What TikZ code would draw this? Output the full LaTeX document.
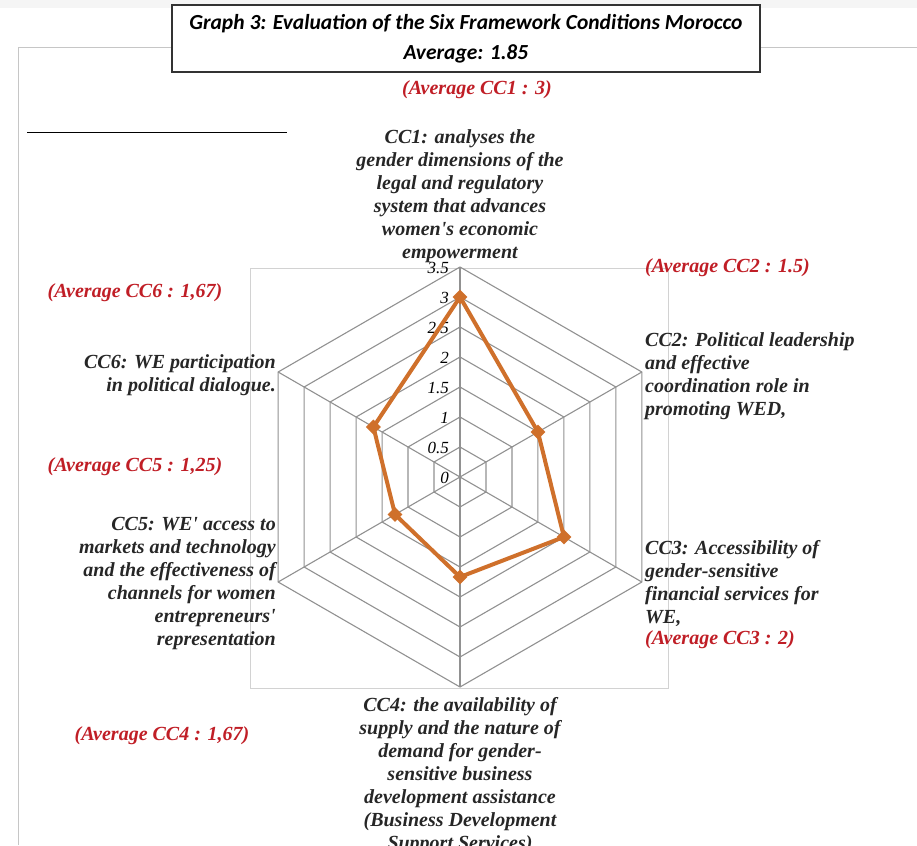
\documentclass[tikz,border=0pt]{standalone}
\usepackage{fontspec}
\setmainfont{Liberation Serif}
\newfontfamily\labfont{Liberation Serif Bold Italic}
\newfontfamily\tickfont{Liberation Serif Italic}
\newfontfamily\titlefont{Carlito Bold Italic}
\usetikzlibrary{shapes.geometric}
\definecolor{sorange}{RGB}{207,112,43}
\definecolor{sred}{RGB}{192,30,38}
\definecolor{gridc}{RGB}{145,145,145}
\begin{document}
\begin{tikzpicture}[x=1pt,y=-1pt,
  lab/.style={font=\labfont\fontsize{20}{23}\selectfont, inner sep=0pt, text=black!85},
  avg/.style={font=\labfont\fontsize{20}{22}\selectfont, text=sred, inner sep=0pt},
  tick/.style={font=\tickfont\fontsize{17}{18}\selectfont, inner sep=0pt, anchor=east, text=black},
  mk/.style={diamond, fill=sorange, minimum size=15pt, inner sep=0pt},
  gridline/.style={draw=gridc, line width=1.1pt}]
\useasboundingbox (0,0) rectangle (917,845);
\fill[gray!8] (0,0) rectangle (917,8);
% outer frame
\coordinate (fa) at (18,845);
\coordinate (fb) at (18,48);
\coordinate (fc) at (172,48);
\coordinate (fd) at (760,48);
\coordinate (fe) at (917,48);
\draw[gray!45, line width=1pt] (fa) -- (fb) -- (fc);
\draw[gray!45, line width=1pt] (fd) -- (fe);
% title
\node[draw=black!80, line width=1.2pt, fill=white, minimum width=588pt, minimum height=67pt,
  align=center, font=\titlefont\fontsize{21.5}{30}\selectfont, inner sep=0pt]
  (title) at (466,38.5) {Graph 3: Evaluation of the Six Framework Conditions Morocco\\Average: 1.85};
% short line
\coordinate (sl1) at (27,132);
\coordinate (sl2) at (287,132);
\draw[black, line width=0.9pt] (sl1) -- (sl2);
% plot area
\coordinate (pa1) at (250,268);
\coordinate (pa2) at (668,688);
\draw[gray!35, line width=1pt] (pa1) rectangle (pa2);
% radar grid
\coordinate (c) at (460,477);
\foreach \r in {30,60,...,210}{
  \draw[gridline] ({460},{477-\r}) -- ({460+0.8660*\r},{477-0.5*\r}) -- ({460+0.8660*\r},{477+0.5*\r})
    -- ({460},{477+\r}) -- ({460-0.8660*\r},{477+0.5*\r}) -- ({460-0.8660*\r},{477-0.5*\r}) -- cycle;
}
\foreach \k in {0,...,5}{
  \coordinate (v\k) at ({460+210*sin(60*\k)},{477-210*cos(60*\k)});
  \draw[gridline] (c) -- (v\k);
}
% tick labels
\foreach \t/\r in {0/0,0.5/30,1/60,1.5/90,2/120,2.5/150,3/180,3.5/210}{
  \node[tick] (t\r) at (449,{478-\r}) {\t};
}
% data
\coordinate (d1) at ({460},{477-180});
\coordinate (d2) at ({460+0.8660*90},{477-0.5*90});
\coordinate (d3) at ({460+0.8660*120},{477+0.5*120});
\coordinate (d4) at ({460},{477+100});
\coordinate (d5) at ({460-0.8660*75},{477+0.5*75});
\coordinate (d6) at ({460-0.8660*100},{477-0.5*100});
\draw[sorange, line width=4pt, line join=round] (d1) -- (d2) -- (d3) -- (d4) -- (d5) -- (d6) -- cycle;
\foreach \k in {1,...,6}{ \node[mk] (m\k) at (d\k) {}; }
% labels
\node[avg] (a1) at (477,90) {(Average CC1 : 3)};
\node[lab, anchor=north, align=center] (l1) at (460,129) {CC1: analyses the\\gender dimensions of the\\legal and regulatory\\system that advances\\women's economic\\empowerment};
\node[avg, anchor=west] (a2) at (645,268) {(Average CC2 : 1.5)};
\node[lab, anchor=north west, align=left] (l2) at (645,332) {CC2: Political leadership\\and effective\\coordination role in\\promoting WED,};
\node[lab, anchor=north west, align=left] (l3) at (645,540) {CC3: Accessibility of\\gender-sensitive\\financial services for\\WE,};
\node[avg, anchor=west] (a3) at (645,640) {(Average CC3 : 2)};
\node[lab, anchor=north, align=center] (l4) at (460,697) {CC4: the availability of\\supply and the nature of\\demand for gender-\\sensitive business\\development assistance\\(Business Development\\Support Services)};
\node[avg] (a4) at (162,736) {(Average CC4 : 1,67)};
\node[lab, anchor=north east, align=right] (l5) at (276,517) {CC5: WE' access to\\markets and technology\\and the effectiveness of\\channels for women\\entrepreneurs'\\representation};
\node[avg] (a5) at (135,467) {(Average CC5 : 1,25)};
\node[lab, anchor=north east, align=right] (l6) at (276,354) {CC6: WE participation\\in political dialogue.};
\node[avg] (a6) at (135,293) {(Average CC6 : 1,67)};
\end{tikzpicture}
\end{document}
